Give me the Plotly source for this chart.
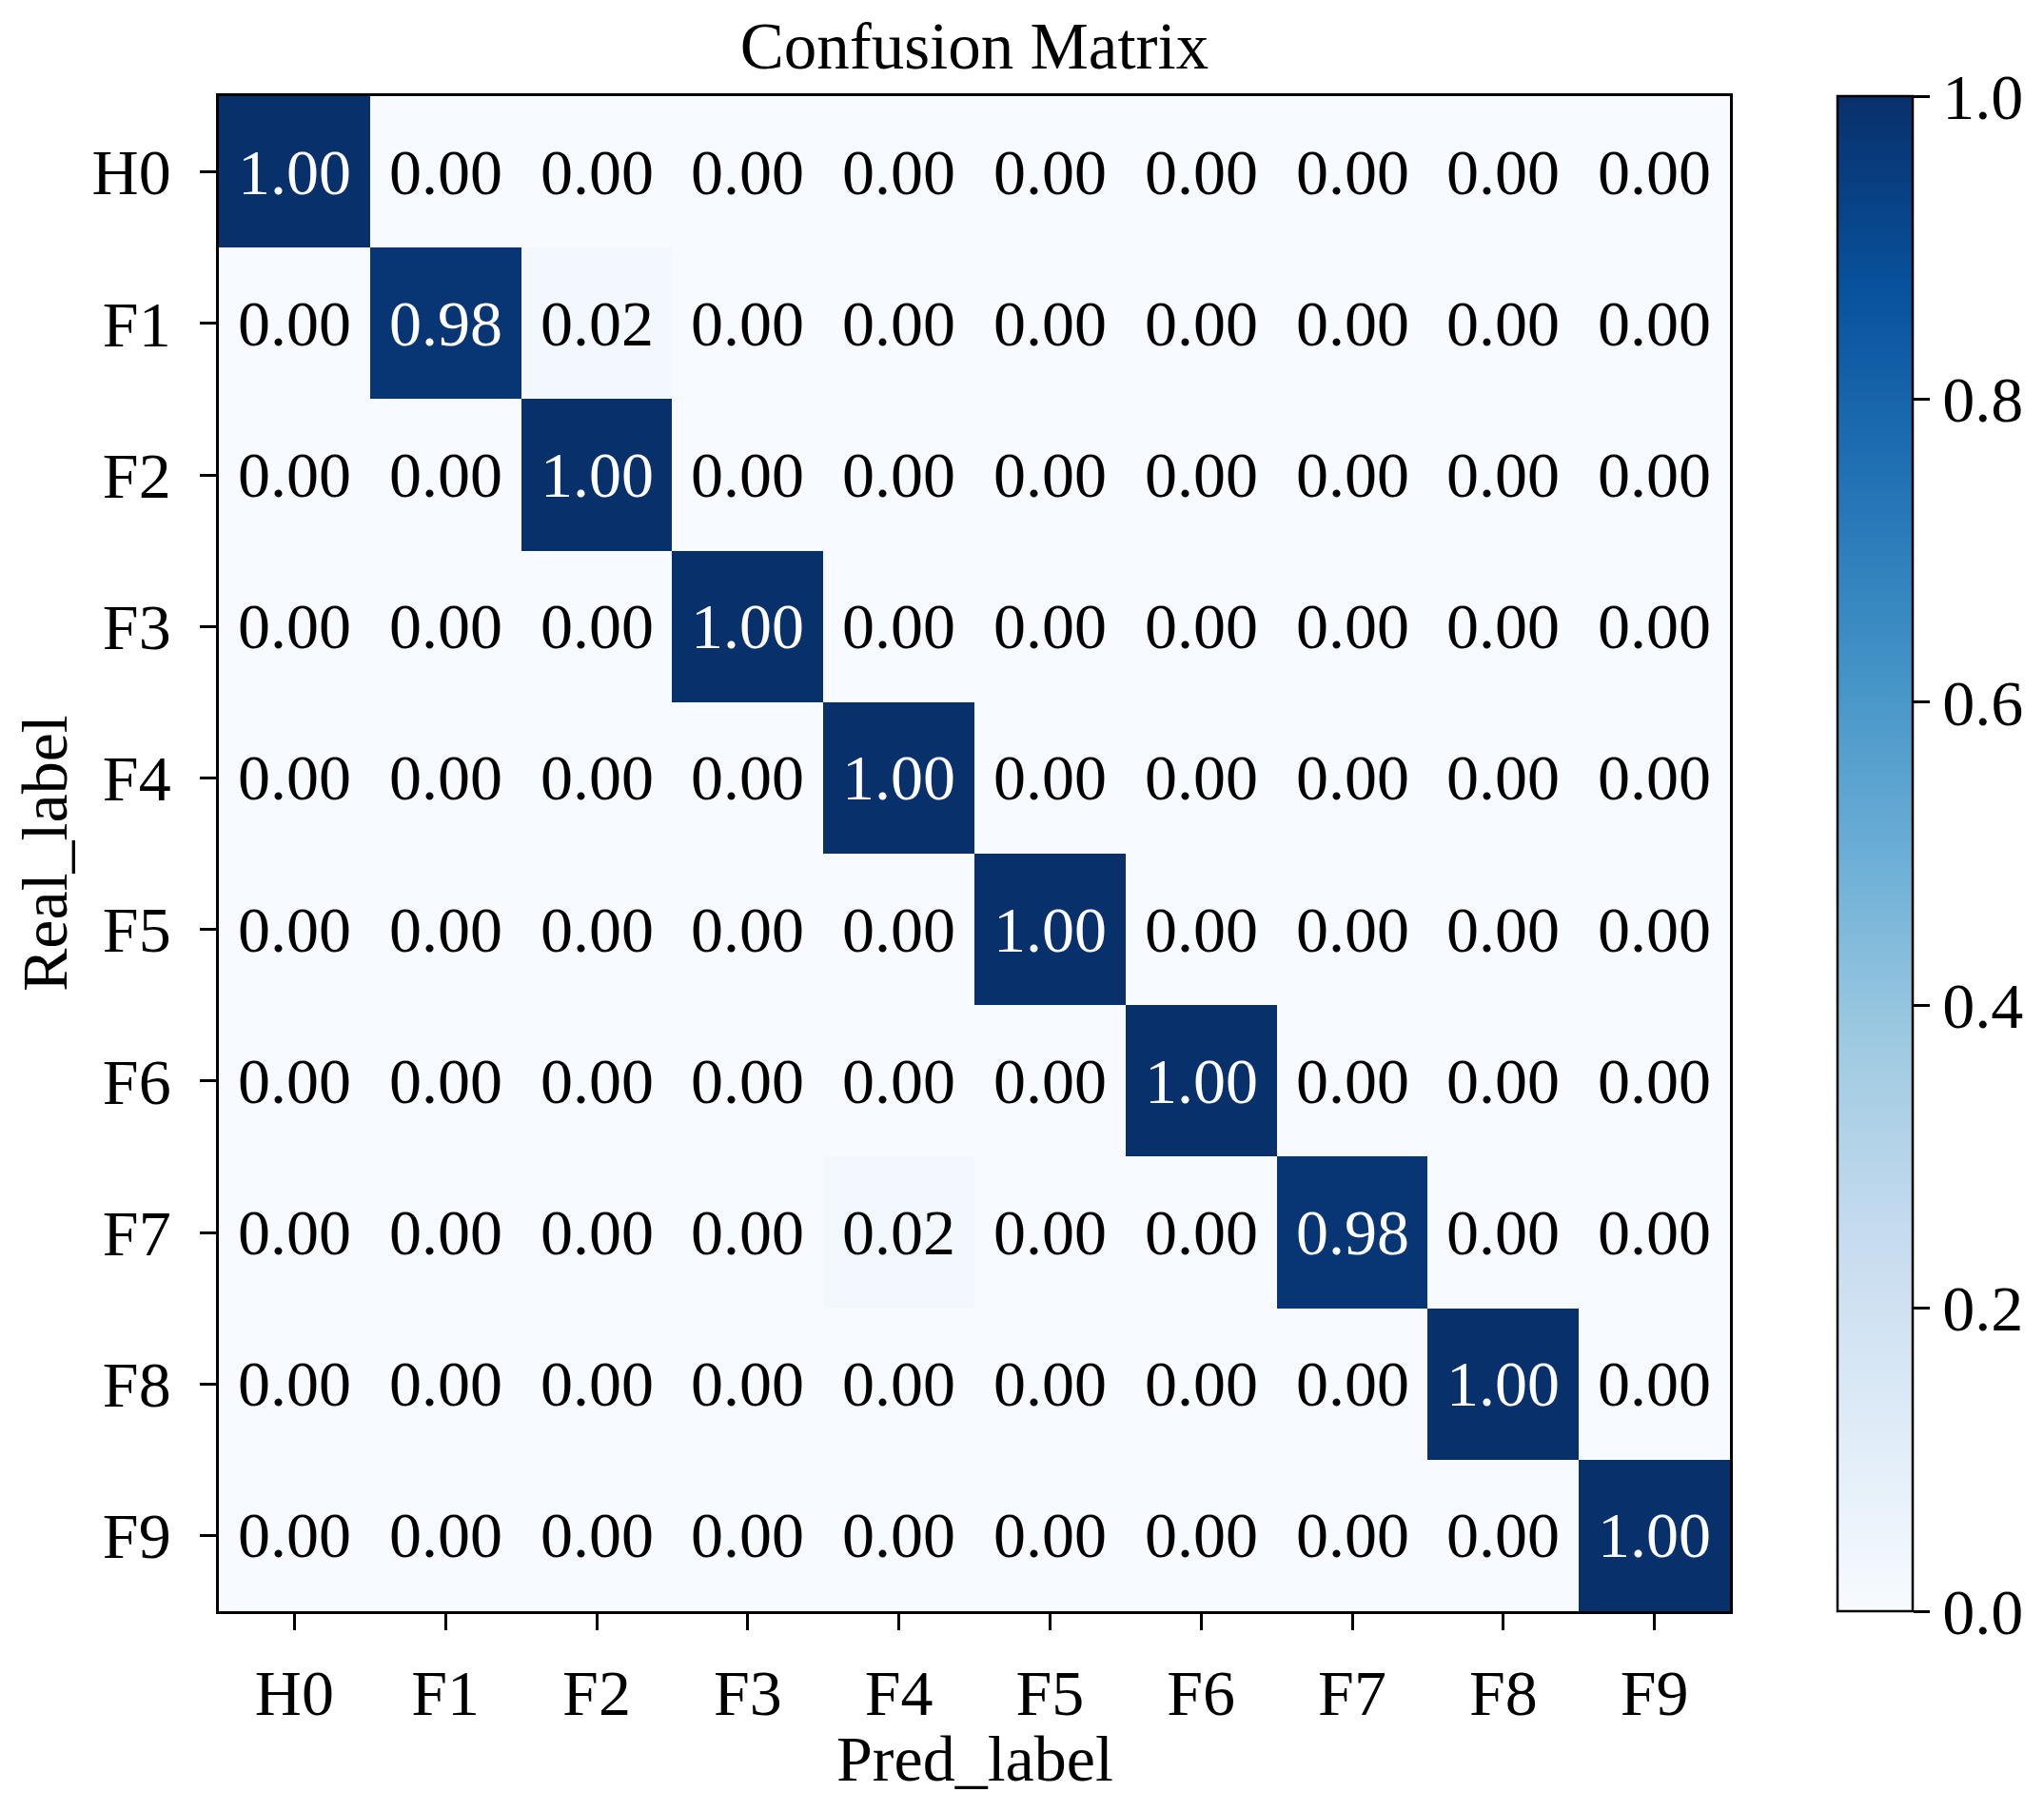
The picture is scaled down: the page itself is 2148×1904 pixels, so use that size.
import plotly.graph_objects as go

labels = ["H0", "F1", "F2", "F3", "F4", "F5", "F6", "F7", "F8", "F9"]
matrix = [
    [1.00, 0.00, 0.00, 0.00, 0.00, 0.00, 0.00, 0.00, 0.00, 0.00],
    [0.00, 0.98, 0.02, 0.00, 0.00, 0.00, 0.00, 0.00, 0.00, 0.00],
    [0.00, 0.00, 1.00, 0.00, 0.00, 0.00, 0.00, 0.00, 0.00, 0.00],
    [0.00, 0.00, 0.00, 1.00, 0.00, 0.00, 0.00, 0.00, 0.00, 0.00],
    [0.00, 0.00, 0.00, 0.00, 1.00, 0.00, 0.00, 0.00, 0.00, 0.00],
    [0.00, 0.00, 0.00, 0.00, 0.00, 1.00, 0.00, 0.00, 0.00, 0.00],
    [0.00, 0.00, 0.00, 0.00, 0.00, 0.00, 1.00, 0.00, 0.00, 0.00],
    [0.00, 0.00, 0.00, 0.00, 0.02, 0.00, 0.00, 0.98, 0.00, 0.00],
    [0.00, 0.00, 0.00, 0.00, 0.00, 0.00, 0.00, 0.00, 1.00, 0.00],
    [0.00, 0.00, 0.00, 0.00, 0.00, 0.00, 0.00, 0.00, 0.00, 1.00],
]
cbar_ticks = [0.0, 0.2, 0.4, 0.6, 0.8, 1.0]

blues = [
    [0.0, "#f7fbff"], [0.125, "#deebf7"], [0.25, "#c6dbef"], [0.375, "#9ecae1"],
    [0.5, "#6baed6"], [0.625, "#4292c6"], [0.75, "#2171b5"], [0.875, "#08519c"],
    [1.0, "#08306b"],
]

FONT = "Liberation Serif, Times New Roman, serif"
FS = 68

# page body has an 8px margin; lay the figure out in page coordinates minus 8
OFF = 8
W, H = 2148 - 2 * OFF, 1904 - 2 * OFF
L, R, T, B = 230 - OFF, 1818 - OFF, 101 - OFF, 1693 - OFF
PW, PH = R - L, B - T

fig = go.Figure()
fig.add_trace(go.Heatmap(
    z=matrix, x=labels, y=labels, colorscale=blues, zmin=0, zmax=1,
    xgap=0, ygap=0,
    colorbar=dict(
        x=(1931 - OFF - L) / PW, xanchor="left", xref="paper",
        y=0.5, yanchor="middle", len=1, lenmode="fraction",
        thickness=79, thicknessmode="pixels", xpad=0, ypad=0,
        outlinecolor="black", outlinewidth=2.5,
        tickvals=cbar_ticks, ticktext=[f"{v:.1f}" for v in cbar_ticks],
        ticks="outside", ticklen=17, tickwidth=2.5, tickcolor="black",
        tickfont=dict(family=FONT, size=FS, color="black"),
    ),
    hoverinfo="skip",
))

annotations = []
for i, row in enumerate(matrix):
    for j, v in enumerate(row):
        annotations.append(dict(
            x=labels[j], y=labels[i], text=f"{v:.2f}", showarrow=False,
            font=dict(family=FONT, size=FS, color="white" if v > 0.5 else "black"),
        ))

# axis titles
annotations.append(dict(
    text="Pred_label", xref="paper", yref="paper", x=0.5, y=-(1848 - OFF - B) / PH,
    xanchor="center", yanchor="middle", showarrow=False,
    font=dict(family=FONT, size=FS, color="black"),
))
annotations.append(dict(
    text="Real_label", xref="paper", yref="paper", x=-(L - (47 - OFF)) / PW, y=0.5,
    xanchor="center", yanchor="middle", textangle=-90, showarrow=False,
    font=dict(family=FONT, size=FS, color="black"),
))

fig.update_layout(
    width=W, height=H,
    margin=dict(l=L, r=W - R, t=T, b=H - B, pad=0),
    paper_bgcolor="white", plot_bgcolor="white",
    font=dict(family=FONT, size=FS, color="black"),
    title=dict(text="Confusion Matrix", x=0.5, xref="paper", xanchor="center",
               y=1 - (48 - OFF) / H, yref="container", yanchor="middle",
               font=dict(family=FONT, size=69, color="black")),
    annotations=annotations,
    xaxis=dict(
        automargin=False,
        ticks="outside", ticklen=17, tickwidth=2.5, tickcolor="black",
        showline=True, linecolor="black", linewidth=2.5, mirror=True,
        showgrid=False, zeroline=False, ticklabelstandoff=8,
        tickfont=dict(family=FONT, size=FS),
    ),
    yaxis=dict(
        automargin=False,
        autorange="reversed",
        ticks="outside", ticklen=17, tickwidth=2.5, tickcolor="black",
        showline=True, linecolor="black", linewidth=2.5, mirror=True,
        showgrid=False, zeroline=False, ticklabelstandoff=17,
        tickfont=dict(family=FONT, size=FS),
    ),
)

fig.write_html("out.html")
